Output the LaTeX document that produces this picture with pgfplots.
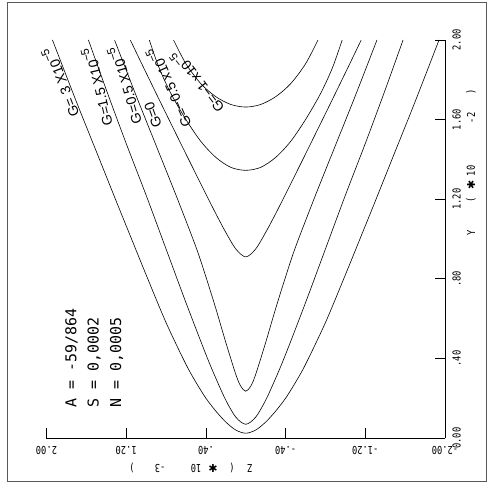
\documentclass[border=0pt]{standalone}
\usepackage{pgfplots}
\pgfplotsset{compat=1.18}
\usepackage{fontspec}
\setmainfont{Liberation Sans}
\newfontfamily\plotfont[FakeStretch=0.8]{DejaVu Sans Mono}
\newfontfamily\notefont{DejaVu Sans Mono}
\newfontfamily\symfont{DejaVu Sans}
\newcommand\tickfont{\plotfont\fontsize{11}{11}\selectfont}
\newcommand\glabel{\fontsize{14}{14}\selectfont}
\newcommand\expo[1]{\rlap{\raisebox{0.45em}{\fontsize{11.5}{11.5}\selectfont #1}}}

\begin{document}
\begin{tikzpicture}
\path[use as bounding box] (0bp,0bp) rectangle (487bp,484bp);
\draw[black!65, line width=0.6bp] (7bp,3bp) rectangle (486bp,482bp);
\begin{axis}[
  at={(46.5bp,46bp)}, anchor=south west,
  scale only axis, width=398.5bp, height=398bp,
  xmin=-2, xmax=2, x dir=reverse,
  ymin=0, ymax=2,
  axis x line*=bottom, axis y line*=right,
  axis line style={line width=0.6bp},
  xtick={-2,-1.2,-0.4,0.4,1.2,2},
  xticklabels={-2.00,-1.20,-.40,.40,1.20,2.00},
  ytick={0,0.4,0.8,1.2,1.6,2},
  yticklabels={0.00,.40,.80,1.20,1.60,2.00},
  tick align=inside,
  major tick length=10bp,
  tick style={line width=0.6bp, black},
  xticklabel style={yshift=-5bp, rotate=180, anchor=south, font=\tickfont},
  yticklabel style={xshift=4bp, rotate=90, anchor=north, font=\tickfont},
  clip=false,
]
% G = 3e-5
\addplot[black, line width=0.6bp, smooth] coordinates {
 (1.94,2.0) (1.7,1.69) (1.5,1.44) (1.3,1.19) (1.13,0.98) (1.0,0.82)
 (0.8,0.58) (0.6,0.37) (0.5,0.28) (0.4,0.20) (0.3,0.135) (0.2,0.08)
 (0.1,0.040) (0,0.024)
 (-0.1,0.040) (-0.2,0.08) (-0.3,0.135) (-0.4,0.20) (-0.5,0.28) (-0.6,0.37)
 (-0.8,0.58) (-1.0,0.82) (-1.13,0.98) (-1.3,1.19) (-1.5,1.44) (-1.7,1.69)
 (-1.94,2.0)};
% G = 1.5e-5
\addplot[black, line width=0.6bp, smooth] coordinates {
 (1.579,2.0) (1.4,1.75) (1.2,1.48) (1.0,1.22) (0.8,0.95) (0.6,0.68)
 (0.4,0.42) (0.3,0.30) (0.2,0.19) (0.1,0.105) (0,0.069)
 (-0.1,0.105) (-0.2,0.19) (-0.3,0.30) (-0.4,0.42) (-0.6,0.68) (-0.8,0.95)
 (-1.0,1.22) (-1.2,1.48) (-1.4,1.75) (-1.579,2.0)};
% G = 0.5e-5
\addplot[black, line width=0.6bp, smooth] coordinates {
 (1.317,2.0) (1.1,1.72) (0.9,1.47) (0.7,1.22) (0.5,0.96) (0.4,0.81)
 (0.3,0.65) (0.2,0.48) (0.1,0.32) (0.05,0.26) (0,0.235)
 (-0.05,0.26) (-0.1,0.32) (-0.2,0.48) (-0.3,0.65) (-0.4,0.81) (-0.5,0.96)
 (-0.7,1.22) (-0.9,1.47) (-1.1,1.72) (-1.317,2.0)};
% G = 0
\addplot[black, line width=0.6bp, smooth] coordinates {
 (1.159,2.0) (1.0,1.835) (0.8,1.630) (0.6,1.427) (0.4,1.226) (0.3,1.127)
 (0.2,1.033) (0.1,0.950) (0,0.910)
 (-0.1,0.950) (-0.2,1.033) (-0.3,1.127) (-0.4,1.226) (-0.6,1.427) (-0.8,1.630)
 (-1.0,1.835) (-1.159,2.0)};
% G = -0.5e-5
\addplot[black, line width=0.6bp, smooth] coordinates {
 (0.968,2.0) (0.87,1.86) (0.75,1.73) (0.6,1.6) (0.45,1.49) (0.3,1.41)
 (0.15,1.36) (0,1.345)
 (-0.15,1.36) (-0.3,1.41) (-0.45,1.49) (-0.6,1.6) (-0.75,1.73) (-0.87,1.86)
 (-0.968,2.0)};
% G = -1e-5
\addplot[black, line width=0.6bp, smooth] coordinates {
 (0.725,2.0) (0.6,1.88) (0.45,1.78) (0.3,1.715) (0.15,1.676) (0,1.663)
 (-0.15,1.676) (-0.3,1.715) (-0.45,1.78) (-0.6,1.88) (-0.725,2.0)};

% curve labels, written along the left branches
\node[rotate=110.8, font=\glabel, inner sep=0pt] at (axis cs:1.84,1.754) {G=\,\,3 X10\expo{−5}};
\node[rotate=103.4, font=\glabel, inner sep=0pt] at (axis cs:1.48,1.731) {G=1.5 X10\expo{−5}};
\node[rotate=106, font=\glabel, inner sep=0pt] at (axis cs:1.20,1.739) {G=0.5 X10\expo{−5}};
\node[rotate=110, font=\glabel, inner sep=0pt] at (axis cs:0.93,1.623) {G=0};
\node[rotate=113.5, font=\glabel, inner sep=0pt] at (axis cs:0.75,1.729) {G=−0.5 x10\expo{−5}};
\node[rotate=127.6, font=\glabel, inner sep=0pt] at (axis cs:0.45,1.76) {G=−1 x10\expo{−5}};
\end{axis}

% parameters
\begin{scope}[every node/.style={rotate=90, anchor=west, font=\notefont\fontsize{15}{15}\selectfont, inner sep=0pt}]
\node at (71.5bp,76bp) {A = -59/864};
\node at (94bp,76bp) {S = 0,0002};
\node at (116.5bp,76bp) {N = 0,0005};
\end{scope}

% axis titles
\begin{scope}[every node/.style={rotate=90, font=\tickfont, inner sep=0pt}]
\node at (471bp,251bp) {Y};
\node at (471bp,284bp) {(};
\node at (471bp,299bp) {\symfont ✱};
\node at (471bp,313bp) {10};
\node at (471bp,366bp) {-2};
\node at (471bp,392bp) {)};
\end{scope}
\begin{scope}[every node/.style={rotate=180, font=\tickfont, inner sep=0pt}]
\node at (250bp,16bp) {Z};
\node at (232bp,16bp) {(};
\node at (213bp,16bp) {\symfont ✱};
\node at (196bp,16bp) {10};
\node at (160bp,16bp) {-3};
\node at (132bp,16bp) {)};
\end{scope}
\end{tikzpicture}
\end{document}
